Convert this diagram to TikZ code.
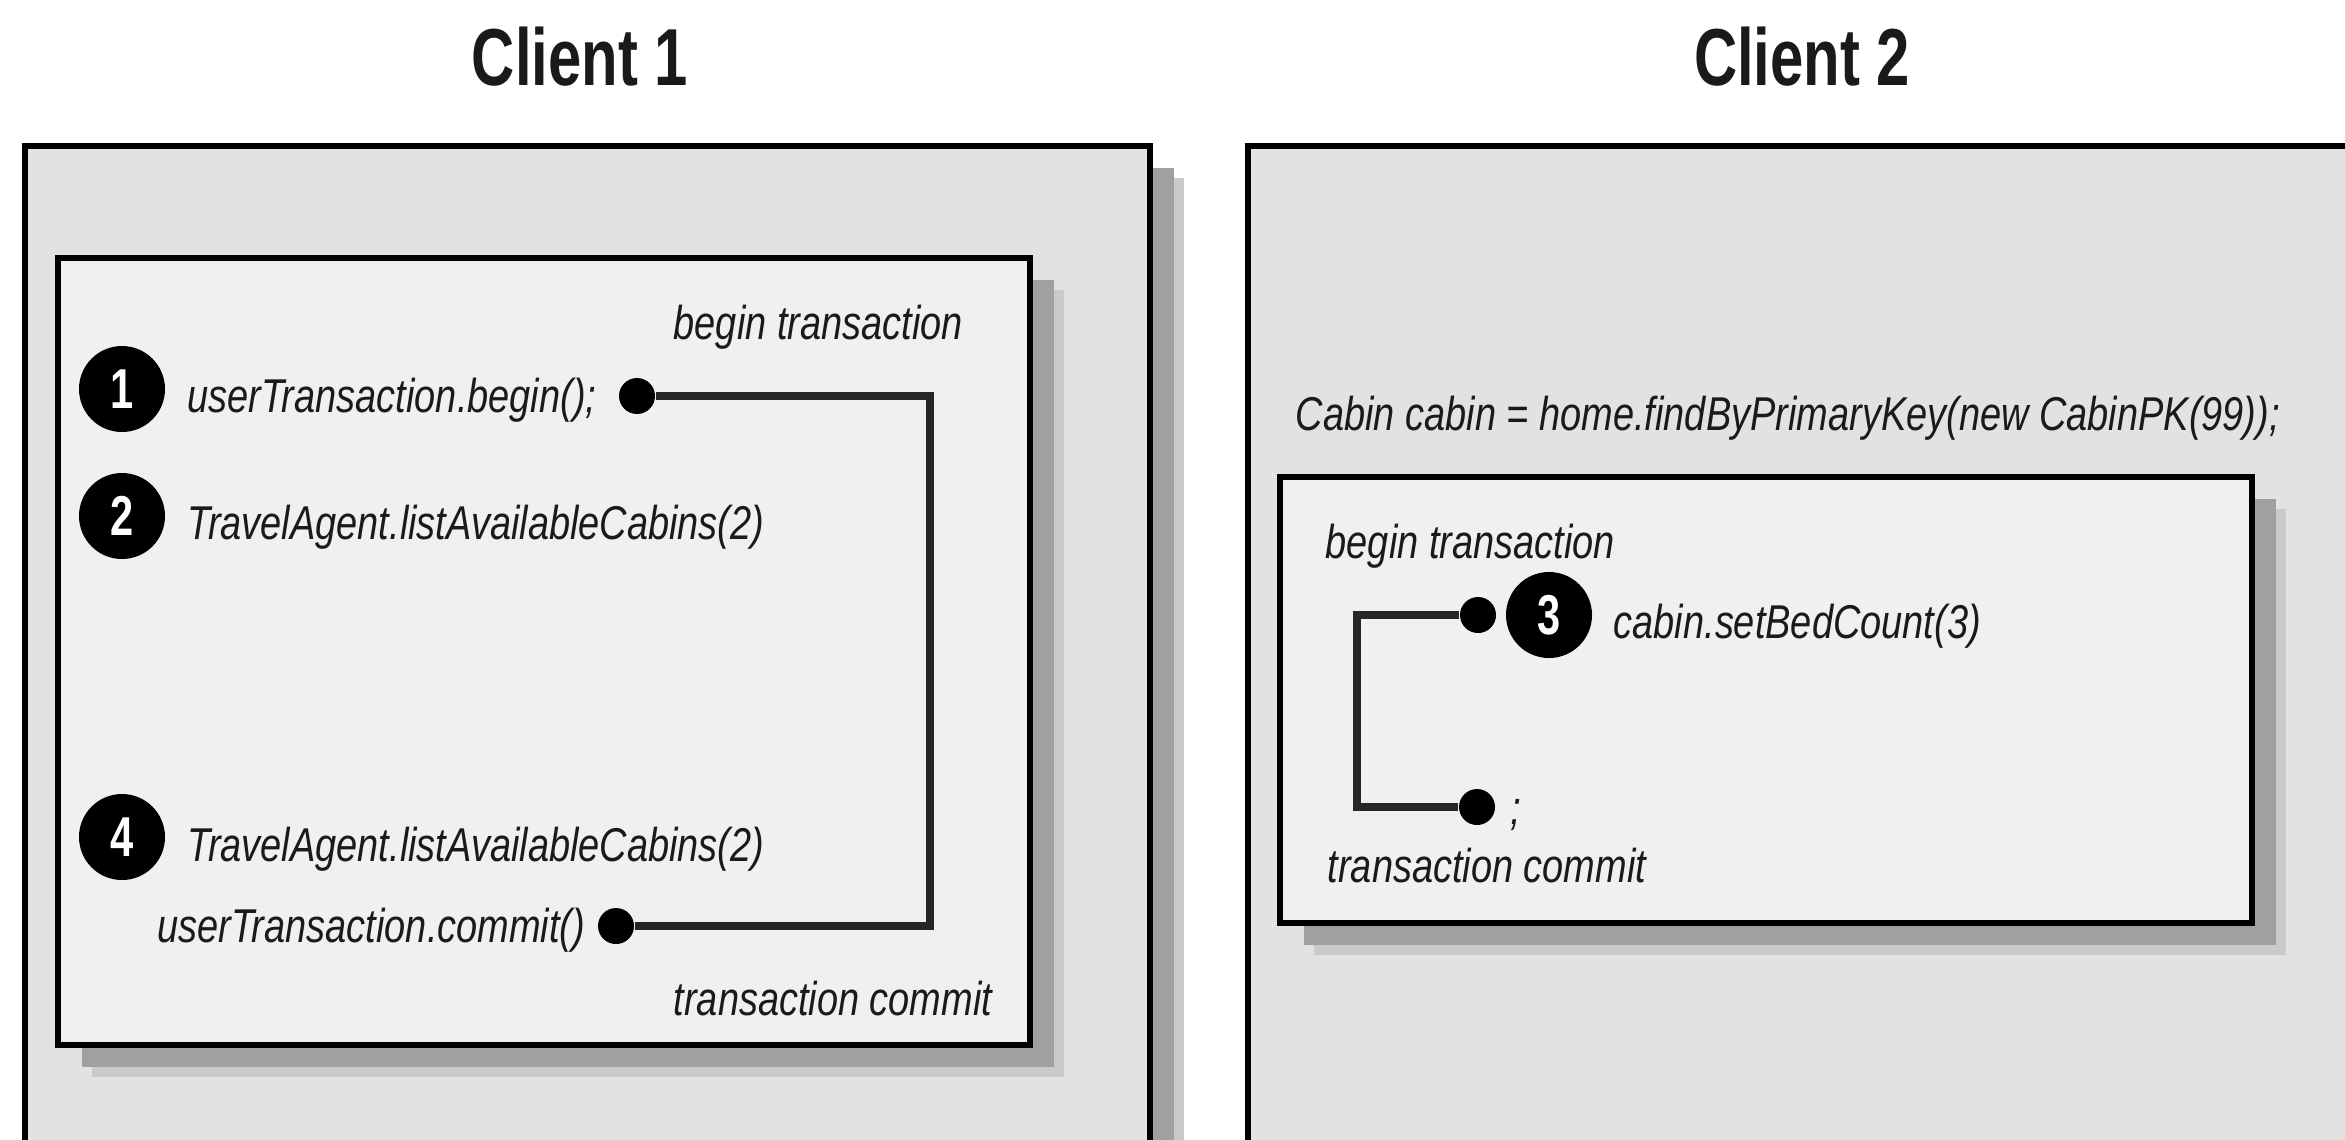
\documentclass[tikz,border=0pt]{standalone}
\usepackage{fontspec}
\usepackage{tikz}
\usetikzlibrary{shadows}
\newfontfamily\codefont[FakeStretch=0.8]{Liberation Sans}
\newfontfamily\headfont[FakeStretch=0.74]{Liberation Sans}
\definecolor{clientgray}{RGB}{226,226,226}
\definecolor{txgray}{RGB}{240,240,240}
\definecolor{shadedark}{RGB}{160,160,160}
\definecolor{shadelight}{RGB}{202,202,202}
\definecolor{ink}{RGB}{26,26,26}
\tikzset{
  boxshade/.style={general shadow={shadow xshift=0.34cm, shadow yshift=-0.32cm, fill=shadelight},
    general shadow={shadow xshift=0.24cm, shadow yshift=-0.22cm, fill=shadedark}},
  clientbox/.style={draw=black, line width=0.55mm, fill=clientgray, boxshade, anchor=north west,
    inner sep=0pt, outer sep=0pt},
  txbox/.style={draw=black, line width=0.55mm, fill=txgray, boxshade, anchor=north west,
    inner sep=0pt, outer sep=0pt},
  clienthead/.style={font=\headfont\bfseries\fontsize{23}{26}\selectfont, text=ink, anchor=base},
  code/.style={font=\codefont\itshape\fontsize{13.5}{16}\selectfont, text=ink, anchor=base west, inner sep=0pt},
  stepnum/.style={circle, fill=black, minimum size=0.86cm, inner sep=0pt, text=white,
    font=\headfont\bfseries\fontsize{16}{18}\selectfont},
  endpoint/.style={circle, fill=black, minimum size=0.36cm, inner sep=0pt},
  txline/.style={draw=black!85, line width=0.8mm}
}
\begin{document}
\begin{tikzpicture}
  \useasboundingbox (0,0) rectangle (23.45,-11.39);
  \clip (0,0) rectangle (23.45,-11.39);
  \fill[white] (0,0) rectangle (23.45,-11.39);

  \node[clienthead] (head1) at (5.80,-0.85) {Client 1};
  \node[clienthead] (head2) at (18.02,-0.85) {Client 2};

  \node[clientbox, minimum width=11.25cm, minimum height=11cm] (client1) at (0.25,-1.46) {};
  \node[clientbox, minimum width=11.25cm, minimum height=11cm] (client2) at (12.48,-1.46) {};

  % client 1: one transaction round both calls
  \node[txbox, minimum width=9.72cm, minimum height=7.87cm] (tx1) at (0.58,-2.58) {};
  \node[code] (begin1) at (6.73,-3.39) {begin transaction};
  \node[stepnum] (step1) at (1.22,-3.89) {1};
  \node[code] (utbegin) at (1.87,-4.12) {userTransaction.begin();};
  \node[stepnum] (step2) at (1.22,-5.16) {2};
  \node[code] (list1) at (1.87,-5.39) {TravelAgent.listAvailableCabins(2)};
  \node[stepnum] (step4) at (1.22,-8.37) {4};
  \node[code] (list2) at (1.87,-8.61) {TravelAgent.listAvailableCabins(2)};
  \node[code] (utcommit) at (1.57,-9.42) {userTransaction.commit()};
  \node[code] (commit1) at (6.73,-10.15) {transaction commit};
  \node[endpoint] (open1) at (6.37,-3.96) {};
  \node[endpoint] (close1) at (6.16,-9.26) {};
  \coordinate (rail1) at (9.30,-6.50);
  \draw[txline] (open1) -| (rail1) |- (close1);

  % client 2
  \node[code] (fetch) at (12.95,-4.30) {Cabin cabin = home.findByPrimaryKey(new CabinPK(99));};
  \node[txbox, minimum width=9.72cm, minimum height=4.46cm] (tx2) at (12.80,-4.77) {};
  \node[code] (begin2) at (13.25,-5.58) {begin transaction};
  \node[stepnum] (step3) at (15.49,-6.15) {3};
  \node[code] (setbed) at (16.13,-6.38) {cabin.setBedCount(3)};
  \node[endpoint] (open2) at (14.78,-6.15) {};
  \node[endpoint] (close2) at (14.77,-8.07) {};
  \node[code] (semi) at (15.10,-8.24) {;};
  \node[code] (commit2) at (13.27,-8.82) {transaction commit};
  \coordinate (rail2) at (13.57,-7.10);
  \draw[txline] (open2) -| (rail2) |- (close2);
\end{tikzpicture}
\end{document}
